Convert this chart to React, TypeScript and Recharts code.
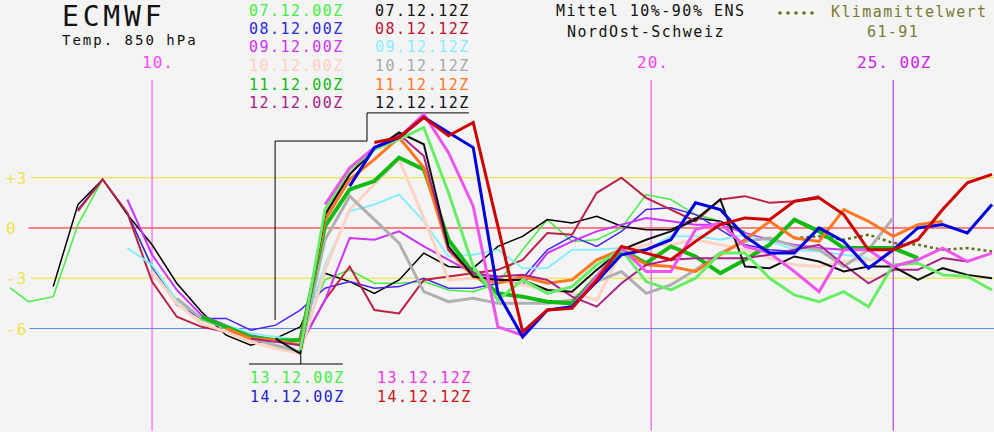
import React from "react";
import { LineChart, Line, XAxis, YAxis, ReferenceLine } from "recharts";

// 12-hourly time axis, day of December
const times = [
  7, 7.5, 8, 8.5, 9, 9.5, 10, 10.5, 11, 11.5, 12, 12.5, 13, 13.5, 14, 14.5, 15, 15.5, 16, 16.5,
  17, 17.5, 18, 18.5, 19, 19.5, 20, 20.5, 21, 21.5, 22, 22.5, 23, 23.5, 24, 24.5, 25, 25.5, 26, 26.5, 27,
];

const _ = null;

// ensemble mean T850 per run (°C)
const run0700 = [-3.3, -4.4, -4.1, 0.2, 2.9, 0.9, -2.4, -4.3, -5.5, -6.0, -6.5, -6.7, -6.6, -3.1, -2.5, -3.3, -3.3, -3.2, -3.7, -3.8, -3.3, -1.3, 0.5, -0.8, -0.7, 0.0, 2.0, 1.7, 0.8, 0.4, -0.2, _, _, _, _, _, _, _, _, _, _];
const run0712 = [_, _, -3.5, 1.4, 2.9, 0.8, -1.0, -3.3, -5.0, -6.4, -7.0, -6.6, -5.9, -2.7, -3.2, -3.9, -3.1, -1.5, -2.3, -2.4, -1.1, -0.5, 0.5, 0.3, 0.7, 0.1, -0.1, -0.1, 0.6, 0.4, -0.3, _, _, _, _, _, _, _, _, _, _];
const run0800 = [_, _, _, 1.1, 2.9, 0.9, -2.3, -4.6, -5.4, -5.4, -6.1, -5.8, -4.9, -3.6, -3.2, -3.6, -3.5, -3.0, -3.6, -3.6, -3.3, -3.0, -1.3, -0.5, -1.1, -0.2, 1.1, 1.2, 0.8, -0.1, -1.0, -1.3, -1.4, _, _, _, _, _, _, _, _];
const run0812 = [_, _, _, 1.0, 2.9, 0.9, -3.2, -5.3, -5.9, -6.2, -6.5, -6.7, -7.0, -4.3, -2.3, -4.9, -5.1, -3.1, -2.9, -2.7, -2.5, -1.9, -0.3, -0.4, 2.1, 3.0, 1.8, 1.1, 0.4, 1.7, 1.9, 1.5, 1.6, 1.9, _, _, _, _, _, _, _];
const run0900 = [_, _, _, _, _, 1.7, -1.6, -3.7, -5.2, -5.8, -6.4, -6.7, -7.0, -4.3, -0.6, -0.7, -0.2, -1.1, -1.9, -2.7, -3.0, -3.4, -1.5, -0.8, -0.2, 0.2, 0.6, 0.4, 0.2, 0.2, -0.3, -0.7, -1.0, -1.2, -1.3, _, _, _, _, _, _];
const run0912 = [_, _, _, _, _, -1.2, -2.2, -4.3, -5.4, -5.8, -6.3, -6.5, -6.7, -2.2, 1.0, 1.4, 2.0, 0.4, -1.7, -1.6, -1.3, -2.4, -2.4, -1.3, -1.3, -1.2, -1.3, -0.5, -0.5, -0.7, -0.4, -0.8, -1.3, -1.4, -1.6, -1.8, _, _, _, _, _];
const run1000 = [_, _, _, _, _, _, -2.6, -4.5, -5.7, -6.2, -6.8, -7.2, -7.5, -2.5, 1.1, 2.6, 4.1, 0.6, -3.1, -3.0, -3.2, -3.4, -3.7, -3.9, -4.3, -1.4, -1.0, -1.0, -0.7, -1.0, -1.3, -1.8, -2.2, -2.3, -2.0, -1.9, -1.6, _, _, _, _];
const run1012 = [_, _, _, _, _, _, _, -4.2, -5.4, -6.0, -6.6, -7.0, -7.4, -0.7, 1.9, 0.5, -0.9, -3.8, -4.4, -4.2, -4.5, -4.5, -4.5, -4.3, -3.2, -2.6, -3.9, -3.4, -2.5, -1.5, -0.8, -0.6, -1.1, -1.3, -2.3, -1.3, 0.6, _, _, _, _];
const run1100 = [_, _, _, _, _, _, _, _, -5.3, -5.9, -6.5, -6.7, -6.7, 0.1, 2.3, 2.8, 4.2, 3.5, -0.7, -2.7, -3.9, -4.1, -4.4, -4.5, -2.9, -1.3, -2.1, -1.1, -1.7, -2.7, -1.9, -1.0, 0.5, -0.2, -1.2, -1.2, -1.2, -1.8, _, _, _];
const run1112 = [_, _, _, _, _, _, _, _, _, -6.0, -6.6, -6.7, -7.0, 0.5, 2.9, 4.1, 5.4, 3.6, -1.3, -2.9, -3.3, -2.9, -3.3, -3.1, -1.9, -1.3, -2.2, -2.3, -2.6, -1.6, -0.7, 0.4, -0.6, -0.8, 1.1, 0.4, -0.5, 0.2, 0.4, _, _];
const run1200 = [_, _, _, _, _, _, _, _, _, _, -6.6, -6.8, -7.0, 0.8, 3.2, 4.7, 5.6, 4.3, -1.3, -2.7, -2.9, -2.8, -3.1, -4.1, -4.7, -3.3, -2.2, -1.9, -1.8, -1.8, -1.8, -1.6, -1.3, -1.0, -2.2, -3.3, -2.5, -2.5, -1.8, -2.0, _];
const run1212 = [_, _, _, _, _, _, _, _, _, _, _, -6.6, -7.5, 0.8, 3.2, 4.7, 5.7, 5.0, -1.1, -2.9, -3.1, -3.1, -3.7, -3.8, -2.5, -1.3, -0.7, -0.2, 0.5, 1.7, -2.3, -2.4, -1.7, -2.0, -2.6, -2.3, -2.3, -3.1, -2.4, -2.8, -3.0];
const run1300 = [_, _, _, _, _, _, _, _, _, _, _, _, -7.3, 1.1, 3.5, 4.7, 5.3, 6.0, 2.1, -2.3, -4.3, -3.1, -3.9, -3.5, -2.2, -1.3, -3.2, -3.7, -3.0, -1.5, -1.5, -3.0, -4.0, -4.4, -3.8, -4.7, -2.2, -2.1, -2.8, -2.9, -3.7];
const run1312 = [_, _, _, _, _, _, _, _, _, _, _, _, _, 1.4, 3.6, 4.8, 5.4, 6.8, 4.5, 1.3, -5.9, -6.4, -4.9, -4.7, -2.9, -1.2, -2.6, -2.6, -0.1, 0.3, -1.1, -1.5, -2.6, -3.8, -1.3, -1.3, -2.3, -1.9, -1.2, -2.0, -1.5];
const run1400 = [_, _, _, _, _, _, _, _, _, _, _, _, _, _, 2.5, 4.8, 5.4, 6.6, 5.7, 4.8, -3.9, -6.5, -4.9, -4.7, -3.2, -1.6, -1.3, -0.7, 1.5, 1.1, -0.5, -1.5, -1.5, 0.0, -0.8, -2.4, -1.3, 0.0, 0.2, -0.3, 1.4];
const run1412 = [_, _, _, _, _, _, _, _, _, _, _, _, _, _, _, 5.1, 5.4, 6.6, 5.5, 6.3, 0.1, -6.2, -4.9, -4.8, -3.1, -1.1, -1.5, -1.9, -0.8, 0.2, 0.6, 0.5, 1.6, 1.8, 0.8, -1.3, -1.3, -0.7, 1.1, 2.7, 3.2];
const climate = [_, _, _, _, _, _, _, _, _, _, _, _, _, _, _, _, _, _, _, _, _, _, _, _, _, _, _, _, _, _, _, _, -0.6, -0.5, -0.7, -0.4, -0.9, -1.0, -1.3, -1.2, -1.4];

const runLabels = [
  "07.12.00Z", "07.12.12Z", "08.12.00Z", "08.12.12Z", "09.12.00Z", "09.12.12Z", "10.12.00Z", "10.12.12Z",
  "11.12.00Z", "11.12.12Z", "12.12.00Z", "12.12.12Z", "13.12.00Z", "13.12.12Z", "14.12.00Z", "14.12.12Z",
];
const runValues = [
  run0700, run0712, run0800, run0812, run0900, run0912, run1000, run1012,
  run1100, run1112, run1200, run1212, run1300, run1312, run1400, run1412,
];

// line styles, same order as runLabels
const lineColors = [
  "#44ee44", "#000000", "#4b22ee", "#bb2244", "#cc33ff", "#88eeff", "#ffd3c2", "#b0b0b0",
  "#11bb11", "#ff7722", "#aa2288", "#111111", "#66ee66", "#ee55ee", "#0000dd", "#cc0000",
];
const lineWidths = [1.5, 1.5, 1.5, 2, 2, 2, 3, 3, 4, 3, 2, 2, 3, 3, 3, 3];
const legendColors = [
  "#44ee44", "#111111", "#2a2add", "#bb1133", "#cc33ee", "#88eeff", "#ffd0c0", "#aaaaaa",
  "#11bb11", "#ff7722", "#aa2288", "#111111", "#44ee44", "#ee33ee", "#2222cc", "#cc1111",
];

const yTicks = [3, 0, -3, -6];
const yTickLabels = ["+3", "0", "-3", "-6"];

const rows = times.map((d, i) => {
  const row: Record<string, number | null> = { d, climate: climate[i] };
  runValues.forEach((vals, j) => {
    row["r" + j] = vals[i];
  });
  return row;
});

const mono = "'DejaVu Sans Mono', monospace";
const W = 994;
const H = 432;

export default function App() {
  const legendTop = [16, 34, 52, 71, 90, 108];
  return (
    <div style={{ position: "relative", width: W, height: H, background: "#f4f4f4", overflow: "hidden" }}>
      <style>{`body{margin:0}`}</style>
      <LineChart width={W} height={H} data={rows} margin={{ top: 0, right: 0, bottom: 0, left: 10 }}>
        <XAxis dataKey="d" type="number" domain={[7.125, 27.04]} allowDataOverflow hide />
        <YAxis type="number" domain={[-12.18, 13.61]} allowDataOverflow hide />
        <ReferenceLine segment={[{ x: 7.55, y: 3 }, { x: 27.04, y: 3 }]} stroke="#eee020" />
        <ReferenceLine segment={[{ x: 7.5, y: 0 }, { x: 27.04, y: 0 }]} stroke="#ff1010" />
        <ReferenceLine segment={[{ x: 7.55, y: -3 }, { x: 27.04, y: -3 }]} stroke="#eee020" />
        <ReferenceLine segment={[{ x: 7.52, y: -6 }, { x: 27.04, y: -6 }]} stroke="#5c8ae8" />
        <ReferenceLine segment={[{ x: 10, y: 8.84 }, { x: 10, y: -12.1 }]} stroke="#ff44ff" />
        <ReferenceLine segment={[{ x: 20.1, y: 8.84 }, { x: 20.1, y: -12.1 }]} stroke="#e040e0" />
        <ReferenceLine segment={[{ x: 25, y: 8.84 }, { x: 25, y: -12.1 }]} stroke="#b020d8" />
        <ReferenceLine segment={[{ x: 12.49, y: -5.49 }, { x: 12.49, y: 5.19 }]} stroke="#000" />
        <ReferenceLine segment={[{ x: 12.49, y: 5.19 }, { x: 14.35, y: 5.19 }]} stroke="#000" />
        <ReferenceLine segment={[{ x: 14.35, y: 5.19 }, { x: 14.35, y: 6.87 }]} stroke="#000" />
        <ReferenceLine segment={[{ x: 14.35, y: 6.87 }, { x: 16.41, y: 6.87 }]} stroke="#000" />
        <ReferenceLine segment={[{ x: 11.96, y: -8.12 }, { x: 13.86, y: -8.12 }]} stroke="#000" />
        <ReferenceLine segment={[{ x: 13.01, y: -7.58 }, { x: 13.01, y: -8.12 }]} stroke="#000" />
        <Line
          dataKey="climate"
          type="linear"
          stroke="#6b6b1e"
          strokeWidth={2.5}
          strokeDasharray="3 3"
          dot={false}
          isAnimationActive={false}
        />
        {runLabels.map((label, j) => (
          <Line
            key={label}
            name={label}
            dataKey={"r" + j}
            type="linear"
            stroke={lineColors[j]}
            strokeWidth={lineWidths[j]}
            dot={false}
            isAnimationActive={false}
          />
        ))}
      </LineChart>

      <svg width={W} height={H} style={{ position: "absolute", left: 0, top: 0, pointerEvents: "none" }}>
        <g fontFamily={mono}>
          <text x={62} y={26} fontSize={28} letterSpacing={3.8} fill="#111">ECMWF</text>
          <text x={62} y={45} fontSize={14} letterSpacing={2} fill="#111">Temp. 850 hPa</text>
          {[0, 2, 4, 6, 8, 10].map((j, i) => (
            <text key={runLabels[j]} x={249} y={legendTop[i]} fontSize={15} letterSpacing={1.5} fill={legendColors[j]}>{runLabels[j]}</text>
          ))}
          {[1, 3, 5, 7, 9, 11].map((j, i) => (
            <text key={runLabels[j]} x={375} y={legendTop[i]} fontSize={15} letterSpacing={1.5} fill={legendColors[j]}>{runLabels[j]}</text>
          ))}
          <text x={250} y={383} fontSize={15} letterSpacing={1.5} fill={legendColors[12]}>{runLabels[12]}</text>
          <text x={250} y={402} fontSize={15} letterSpacing={1.5} fill={legendColors[14]}>{runLabels[14]}</text>
          <text x={377} y={383} fontSize={15} letterSpacing={1.5} fill={legendColors[13]}>{runLabels[13]}</text>
          <text x={377} y={402} fontSize={15} letterSpacing={1.5} fill={legendColors[15]}>{runLabels[15]}</text>
          <text x={556} y={16} fontSize={15} letterSpacing={1.5} fill="#111">Mittel 10%-90% ENS</text>
          <text x={567} y={37} fontSize={15} letterSpacing={1.5} fill="#111">NordOst-Schweiz</text>
          {[0, 1, 2, 3, 4].map((i) => (
            <circle key={i} cx={780 + i * 8} cy={13} r={1.8} fill="#6b6b1e" />
          ))}
          <text x={831} y={17} fontSize={15} letterSpacing={1.4} fill="#7b7b35">Klimamittelwert</text>
          <text x={867} y={37} fontSize={15} letterSpacing={1.4} fill="#7b7b35">61-91</text>
          <text x={142} y={68} fontSize={16} letterSpacing={1} fill="#ff44ff">10.</text>
          <text x={637} y={68} fontSize={16} letterSpacing={1} fill="#ee44ee">20.</text>
          <text x={857} y={68} fontSize={16} letterSpacing={1} fill="#cc22ee">25. 00Z</text>
          {yTicks.map((t, i) => (
            <text key={t} x={6} y={228 - t * 16.75 + 6} fontSize={16} letterSpacing={1} fill="#f0e450">{yTickLabels[i]}</text>
          ))}
        </g>
      </svg>
    </div>
  );
}
